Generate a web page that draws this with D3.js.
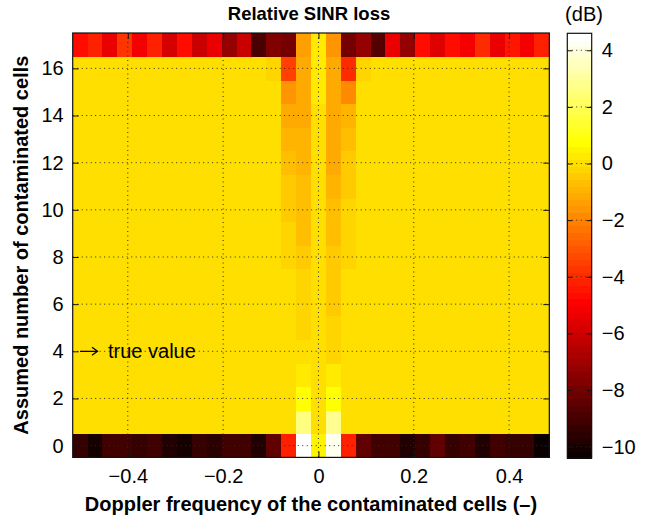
<!DOCTYPE html>
<html>
<head>
<meta charset="utf-8">
<script src="https://cdn.jsdelivr.net/npm/d3@7"></script>
<style>
  html, body { margin: 0; padding: 0; background: #fff; }
  svg { display: block; }
  text { font-family: "Liberation Sans", Arial, sans-serif; fill: #000; }
</style>
</head>
<body>
<svg id="chart" width="658" height="523"></svg>
<script>
// Doppler bin centres (normalised frequency), 32 bins
const dopplerBins = [
  -0.5, -0.46875, -0.4375, -0.40625, -0.375, -0.34375, -0.3125, -0.28125,
  -0.25, -0.21875, -0.1875, -0.15625, -0.125, -0.09375, -0.0625, -0.03125,
  0, 0.03125, 0.0625, 0.09375, 0.125, 0.15625, 0.1875, 0.21875,
  0.25, 0.28125, 0.3125, 0.34375, 0.375, 0.40625, 0.4375, 0.46875
];
// assumed number of contaminated cells (rows)
const assumedCells = [0, 1, 2, 3, 4, 5, 6, 7, 8, 9, 10, 11, 12, 13, 14, 15, 16, 17];

// relative SINR loss (dB) when 0 cells are assumed
const lossRow0 = [
  -9.3, -10.0, -9.2, -9.2, -9.3, -9.0, -9.9, -10.1, -9.4, -9.5, -9.2, -9.2, -9.9, -8.5, -4.2, 4.5,
  0.5, 4.2, -4.2, -8.3, -9.2, -9.0, -9.9, -9.4, -8.5, -9.4, -9.2, -9.9, -9.2, -9.3, -9.4, -10.2
];
// relative SINR loss (dB) when 17 cells are assumed
const lossRow17 = [
  -4.55, -4.1, -5.45, -3.7, -5.1, -4.1, -5.8, -4.55, -6.15, -5.45, -7.2, -6.0, -8.8, -7.75, -7.9, -1.4,
  0.15, -1.6, -7.9, -7.2, -8.6, -5.3, -7.2, -4.6, -5.6, -4.6, -5.1, -3.9, -5.45, -4.4, -5.1, -4.1
];
// rows 1..16: loss in the bins closest to zero Doppler (bins 13..19)
const nearZeroBins = [13, 14, 15, 16, 17, 18, 19];
const nearZeroLoss = [
  /* 1 */  [0, 0, 2.7, 0, 2.9, 0, 0],
  /* 2 */  [0, 0, 0.7, 0, 0.75, 0, 0],
  /* 3 */  [0, 0, 0.25, 0, 0.25, 0, 0],
  /* 4 */  [0, 0, 0, 0, -0.1, 0, 0],
  /* 5 */  [0, 0, -0.1, 0, -0.28, 0, 0],
  /* 6 */  [0, 0, -0.28, 0, -0.36, 0, 0],
  /* 7 */  [0, 0, -0.28, 0, -0.36, 0, 0],
  /* 8 */  [0, -0.25, -0.45, 0, -0.45, -0.1, 0],
  /* 9 */  [0, -0.28, -0.63, 0, -0.63, -0.28, 0],
  /* 10 */ [0, -0.36, -0.72, 0, -0.72, -0.2, 0],
  /* 11 */ [0, -0.55, -0.72, 0, -0.8, -0.36, 0],
  /* 12 */ [0, -0.63, -0.8, 0, -1.05, -0.55, 0],
  /* 13 */ [0, -0.8, -0.9, 0, -1.05, -0.7, 0],
  /* 14 */ [0, -1.05, -1.05, 0, -1.15, -0.98, 0],
  /* 15 */ [0, -1.7, -1.15, 0.15, -1.25, -1.75, 0],
  /* 16 */ [-0.1, -3.5, -1.25, 0.15, -1.25, -4.0, -0.1]
];
// loss elsewhere in rows 1..16
const backgroundLoss = 0;

const xTicks = [-0.4, -0.2, 0, 0.2, 0.4];
const yTicks = [0, 2, 4, 6, 8, 10, 12, 14, 16];
const cbarTicks = [-10, -8, -6, -4, -2, 0, 2, 4];
const colorLimits = [-10.4, 4.6];

// build the full grid of cells
const cells = [];
assumedCells.forEach((n, r) => {
  dopplerBins.forEach((f, k) => {
    let v;
    if (r === 0) v = lossRow0[k];
    else if (r === 17) v = lossRow17[k];
    else {
      const j = nearZeroBins.indexOf(k);
      v = j >= 0 ? nearZeroLoss[r - 1][j] : backgroundLoss;
    }
    cells.push({ n, f, v });
  });
});

// 64-entry "hot" colormap: black -> red -> yellow -> white
const nColors = 64;
const hotMap = d3.range(nColors).map(i => {
  const m = i + 1;
  const r = Math.min(1, m / 24);
  const g = Math.max(0, Math.min(1, (m - 24) / 24));
  const b = Math.max(0, Math.min(1, (m - 48) / 16));
  return d3.rgb(r * 255, g * 255, b * 255).toString();
});
const norm = d3.scaleLinear().domain(colorLimits).range([0, 1]).clamp(true);
const color = v => hotMap[Math.min(nColors - 1, Math.floor(norm(v) * nColors))];

const svg = d3.select("#chart");
const plotL = 72.7, plotR = 549.3, plotT = 33, plotB = 457.4;
const binW = 1 / 32;

const x = d3.scaleLinear()
  .domain([dopplerBins[0] - binW / 2, dopplerBins[dopplerBins.length - 1] + binW / 2])
  .range([plotL, plotR]);
const y = d3.scaleLinear().domain([-0.5, 17.5]).range([plotB, plotT]);

// heatmap cells
svg.append("g").attr("shape-rendering", "crispEdges")
  .selectAll("rect").data(cells).join("rect")
  .attr("x", d => x(d.f - binW / 2))
  .attr("y", d => y(d.n + 0.5))
  .attr("width", d => x(d.f + binW / 2) - x(d.f - binW / 2) + 0.5)
  .attr("height", d => y(d.n - 0.5) - y(d.n + 0.5) + 0.5)
  .attr("fill", d => color(d.v));

// dotted grid
const grid = svg.append("g").attr("stroke", "#2a2a2a").attr("stroke-width", 1)
  .attr("stroke-dasharray", "1,3.5").attr("fill", "none");
grid.selectAll(".gx").data(xTicks).join("line")
  .attr("x1", d => x(d)).attr("x2", d => x(d))
  .attr("y1", plotT).attr("y2", plotB);
grid.selectAll(".gy").data(yTicks).join("line")
  .attr("x1", plotL).attr("x2", plotR)
  .attr("y1", d => y(d)).attr("y2", d => y(d));

// axes with inward ticks
const fontSize = 20;
const gx = svg.append("g").attr("transform", `translate(0,${plotB})`)
  .call(d3.axisBottom(x).tickValues(xTicks).tickSize(-6).tickPadding(11)
    .tickFormat(d => d === 0 ? "0" : d3.format(".1f")(d).replace("-", "\u2212")));
const gy = svg.append("g").attr("transform", `translate(${plotL},0)`)
  .call(d3.axisLeft(y).tickValues(yTicks).tickSize(-6).tickPadding(9));
const gxTop = svg.append("g").attr("transform", `translate(0,${plotT})`)
  .call(d3.axisTop(x).tickValues(xTicks).tickSize(-6).tickFormat(""));
const gyRight = svg.append("g").attr("transform", `translate(${plotR},0)`)
  .call(d3.axisRight(y).tickValues(yTicks).tickSize(-6).tickFormat(""));
[gx, gy, gxTop, gyRight].forEach(g => {
  g.select(".domain").remove();
  g.selectAll("line").attr("stroke", "#111");
  g.selectAll("text").attr("font-size", fontSize)
    .style("font-family", '"Liberation Sans", Arial, sans-serif');
});

// plot frame
svg.append("rect").attr("x", plotL).attr("y", plotT)
  .attr("width", plotR - plotL).attr("height", plotB - plotT)
  .attr("fill", "none").attr("stroke", "#111").attr("stroke-width", 1.2);

// annotation: arrow pointing at the true number of cells
const ay = y(4);
svg.append("path")
  .attr("d", `M80,${ay}H97M92,${ay - 4}L97.5,${ay}L92,${ay + 4}`)
  .attr("fill", "none").attr("stroke", "#000").attr("stroke-width", 1.3);
svg.append("text").attr("x", 108).attr("y", ay + 7)
  .attr("font-size", 20)
  .text("true value");

// title and axis labels
svg.append("text").attr("x", (plotL + plotR) / 2 - 2).attr("y", 20)
  .attr("text-anchor", "middle").attr("font-weight", "bold").attr("font-size", 18.5)
  .text("Relative SINR loss");
svg.append("text").attr("x", (plotL + plotR) / 2).attr("y", 511)
  .attr("text-anchor", "middle").attr("font-weight", "bold").attr("font-size", 20)
  .text("Doppler frequency of the contaminated cells (\u2013)");
svg.append("text")
  .attr("transform", `translate(28,${(plotT + plotB) / 2}) rotate(-90)`)
  .attr("text-anchor", "middle").attr("font-weight", "bold").attr("font-size", 20)
  .text("Assumed number of contaminated cells");

// colorbar
const cbL = 567.3, cbR = 591.7, cbT = 33.3, cbB = 458;
const cy = d3.scaleLinear().domain(colorLimits).range([cbB, cbT]);
const stepH = (cbB - cbT) / nColors;
svg.append("g").attr("shape-rendering", "crispEdges")
  .selectAll("rect").data(hotMap).join("rect")
  .attr("x", cbL).attr("width", cbR - cbL)
  .attr("y", (c, i) => cbB - (i + 1) * stepH).attr("height", stepH + 0.6)
  .attr("fill", c => c);
svg.append("g").attr("stroke", "#2a2a2a").attr("stroke-dasharray", "1,3.5")
  .selectAll("line").data(cbarTicks).join("line")
  .attr("x1", cbL).attr("x2", cbR).attr("y1", d => cy(d)).attr("y2", d => cy(d));
const gc = svg.append("g").attr("transform", `translate(${cbR},0)`)
  .call(d3.axisRight(cy).tickValues(cbarTicks).tickSize(-5).tickPadding(10)
    .tickFormat(d => String(d).replace("-", "\u2212")));
const gcL = svg.append("g").attr("transform", `translate(${cbL},0)`)
  .call(d3.axisLeft(cy).tickValues(cbarTicks).tickSize(-5).tickFormat(""));
[gc, gcL].forEach(g => {
  g.select(".domain").remove();
  g.selectAll("line").attr("stroke", "#111");
  g.selectAll("text").attr("font-size", fontSize)
    .style("font-family", '"Liberation Sans", Arial, sans-serif');
});
svg.append("rect").attr("x", cbL).attr("y", cbT)
  .attr("width", cbR - cbL).attr("height", cbB - cbT)
  .attr("fill", "none").attr("stroke", "#111").attr("stroke-width", 1.2);
svg.append("text").attr("x", 584).attr("y", 21)
  .attr("text-anchor", "middle").attr("font-size", 20)
  .text("(dB)");
</script>
</body>
</html>
